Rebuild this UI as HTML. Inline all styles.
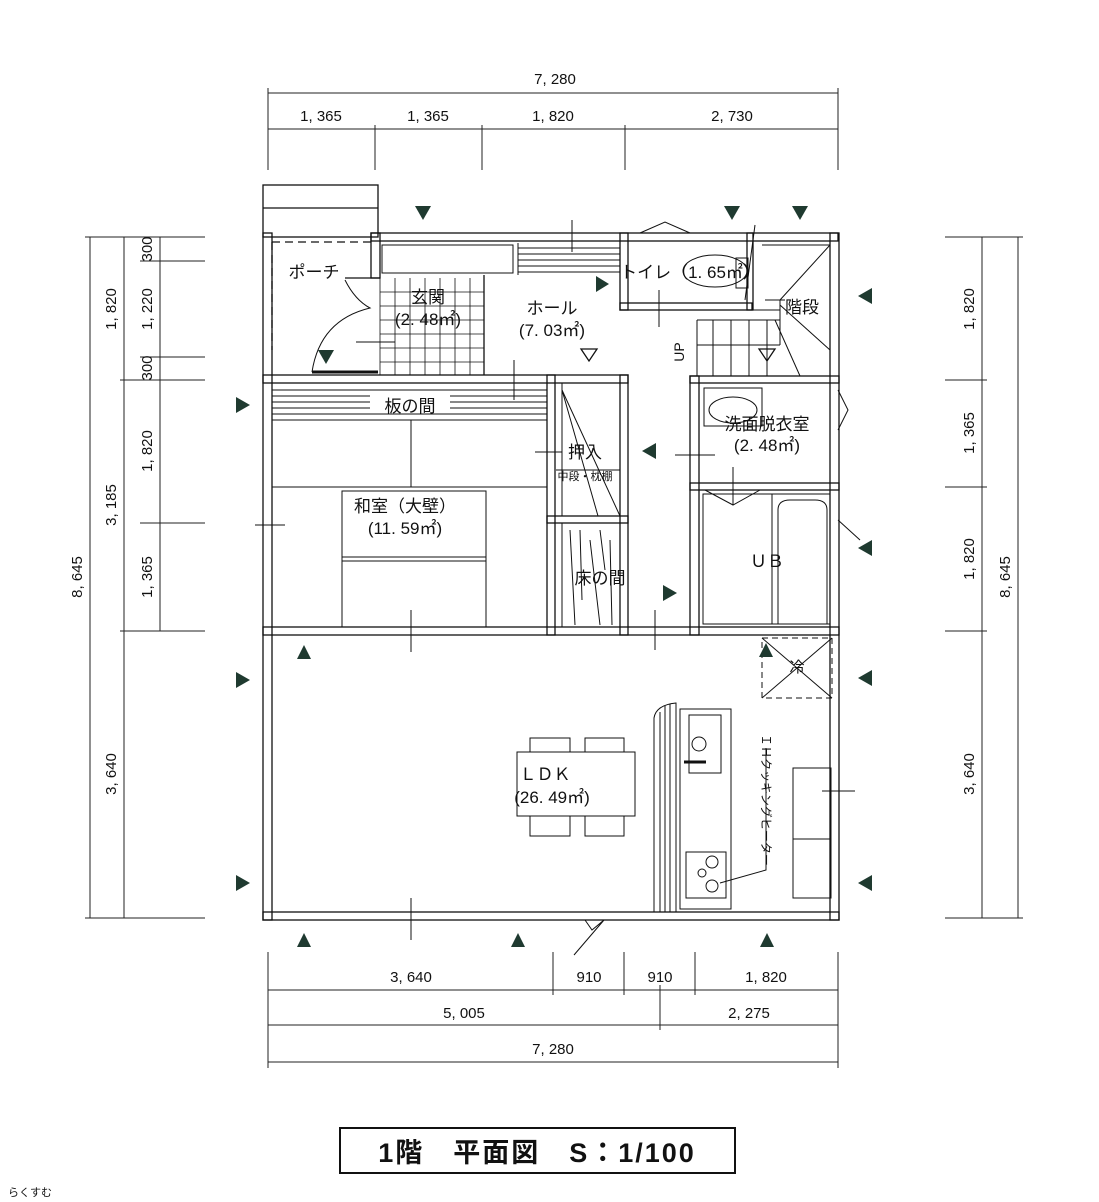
<!DOCTYPE html>
<html><head><meta charset="utf-8"><style>
html,body{margin:0;padding:0;background:#fff;}
svg{display:block;}
text{font-family:"Liberation Sans","Noto Sans CJK JP",sans-serif;fill:#111;}
</style></head><body>
<svg width="1099" height="1202" viewBox="0 0 1099 1202" xmlns="http://www.w3.org/2000/svg">
<g stroke="#222" stroke-width="1" fill="none">
<line x1="268" y1="93" x2="838" y2="93"/>
<line x1="268" y1="129" x2="838" y2="129"/>
<line x1="268" y1="88" x2="268" y2="170"/><line x1="838" y1="88" x2="838" y2="170"/>
<line x1="375" y1="125" x2="375" y2="170"/><line x1="482" y1="125" x2="482" y2="170"/><line x1="625" y1="125" x2="625" y2="170"/>
<line x1="268" y1="990" x2="838" y2="990"/>
<line x1="268" y1="1025" x2="838" y2="1025"/>
<line x1="268" y1="1062" x2="838" y2="1062"/>
<line x1="268" y1="952" x2="268" y2="1068"/><line x1="838" y1="952" x2="838" y2="1068"/>
<line x1="553" y1="952" x2="553" y2="995"/><line x1="624" y1="952" x2="624" y2="995"/><line x1="695" y1="952" x2="695" y2="995"/>
<line x1="660" y1="985" x2="660" y2="1030"/>
<line x1="90" y1="237" x2="90" y2="918"/>
<line x1="124" y1="237" x2="124" y2="918"/>
<line x1="160" y1="237" x2="160" y2="631"/>
<line x1="85" y1="237" x2="205" y2="237"/><line x1="85" y1="918" x2="205" y2="918"/>
<line x1="140" y1="261" x2="205" y2="261"/><line x1="140" y1="357" x2="205" y2="357"/>
<line x1="120" y1="380" x2="205" y2="380"/><line x1="140" y1="523" x2="205" y2="523"/><line x1="120" y1="631" x2="205" y2="631"/>
<line x1="982" y1="237" x2="982" y2="918"/>
<line x1="1018" y1="237" x2="1018" y2="918"/>
<line x1="945" y1="237" x2="1023" y2="237"/><line x1="945" y1="918" x2="1023" y2="918"/>
<line x1="945" y1="380" x2="987" y2="380"/><line x1="945" y1="487" x2="987" y2="487"/><line x1="945" y1="631" x2="987" y2="631"/>
</g>
<g font-size="15" text-anchor="middle">
<text x="555" y="84">7, 280</text>
<text x="321" y="121">1, 365</text><text x="428" y="121">1, 365</text><text x="553" y="121">1, 820</text><text x="732" y="121">2, 730</text>
<text x="411" y="982">3, 640</text><text x="589" y="982">910</text><text x="660" y="982">910</text><text x="766" y="982">1, 820</text>
<text x="464" y="1018">5, 005</text><text x="749" y="1018">2, 275</text>
<text x="553" y="1054">7, 280</text>
<text transform="translate(82,577) rotate(-90)">8, 645</text>
<text transform="translate(116,505) rotate(-90)">3, 185</text>
<text transform="translate(116,309) rotate(-90)">1, 820</text>
<text transform="translate(116,774) rotate(-90)">3, 640</text>
<text transform="translate(152,249) rotate(-90)">300</text>
<text transform="translate(152,309) rotate(-90)">1, 220</text>
<text transform="translate(152,368) rotate(-90)">300</text>
<text transform="translate(152,451) rotate(-90)">1, 820</text>
<text transform="translate(152,577) rotate(-90)">1, 365</text>
<text transform="translate(974,309) rotate(-90)">1, 820</text>
<text transform="translate(974,433) rotate(-90)">1, 365</text>
<text transform="translate(974,559) rotate(-90)">1, 820</text>
<text transform="translate(974,774) rotate(-90)">3, 640</text>
<text transform="translate(1010,577) rotate(-90)">8, 645</text>
</g>
<g stroke="#111" stroke-width="1.3" fill="none">
<rect x="263" y="185" width="115" height="52"/><line x1="263" y1="208" x2="378" y2="208"/>
<line x1="272" y1="242" x2="372" y2="242" stroke-dasharray="8,5"/>
<line x1="272" y1="242" x2="272" y2="350" stroke-dasharray="8,5"/>
<rect x="263" y="233" width="9" height="687"/>
<rect x="371" y="233" width="467" height="8"/>
<rect x="830" y="233" width="9" height="687"/>
<rect x="263" y="912" width="576" height="8"/>
<rect x="371" y="233" width="9" height="45"/>
<line x1="345" y1="278" x2="380" y2="278"/>
<rect x="263" y="375" width="365" height="8"/>
<rect x="263" y="627" width="576" height="8"/>
<rect x="690" y="376" width="149" height="7"/>
<rect x="690" y="483" width="149" height="7"/>
<rect x="620" y="233" width="8" height="77"/>
<rect x="620" y="303" width="132" height="7"/>
<rect x="747" y="233" width="6" height="77"/>
<rect x="547" y="375" width="8" height="260"/>
<rect x="620" y="375" width="8" height="260"/>
<rect x="547" y="516" width="81" height="7"/>
<rect x="690" y="376" width="9" height="259"/>
<g stroke-width="1">
<line x1="518" y1="243" x2="518" y2="275"/>
<line x1="518" y1="248" x2="620" y2="248"/><line x1="518" y1="254" x2="620" y2="254"/><line x1="518" y1="260" x2="620" y2="260"/><line x1="518" y1="266" x2="620" y2="266"/><line x1="518" y1="272" x2="620" y2="272"/>
<line x1="572" y1="220" x2="572" y2="252"/>
<rect x="382" y="245" width="131" height="28"/>
<g stroke-width="0.8">
<line x1="380" y1="278" x2="380" y2="375"/><line x1="395" y1="278" x2="395" y2="375"/><line x1="410" y1="278" x2="410" y2="375"/><line x1="425" y1="278" x2="425" y2="375"/><line x1="440" y1="278" x2="440" y2="375"/><line x1="455" y1="278" x2="455" y2="375"/><line x1="470" y1="278" x2="470" y2="375"/>
<line x1="380" y1="292" x2="484" y2="292"/><line x1="380" y1="306" x2="484" y2="306"/><line x1="380" y1="320" x2="484" y2="320"/><line x1="380" y1="334" x2="484" y2="334"/><line x1="380" y1="348" x2="484" y2="348"/><line x1="380" y1="362" x2="484" y2="362"/>
</g>
<line x1="484" y1="275" x2="484" y2="375" stroke-width="1.3"/>
<path d="M345 280 Q 355 300 370 308 Q 320 320 312 372"/>
<line x1="312" y1="372" x2="378" y2="372" stroke-width="3"/>
<line x1="356" y1="342" x2="395" y2="342"/>
<line x1="514" y1="360" x2="514" y2="400"/>
<line x1="272" y1="390" x2="547" y2="390"/><line x1="272" y1="396" x2="370" y2="396"/><line x1="450" y1="396" x2="547" y2="396"/><line x1="272" y1="402" x2="370" y2="402"/><line x1="450" y1="402" x2="547" y2="402"/><line x1="272" y1="408" x2="370" y2="408"/><line x1="450" y1="408" x2="547" y2="408"/><line x1="272" y1="414" x2="547" y2="414"/>
<line x1="272" y1="420" x2="547" y2="420"/>
<line x1="411" y1="420" x2="411" y2="487"/>
<line x1="272" y1="487" x2="547" y2="487"/>
<rect x="342" y="491" width="144" height="136"/>
<line x1="342" y1="557" x2="486" y2="557"/><line x1="342" y1="561" x2="486" y2="561"/>
<line x1="255" y1="525" x2="285" y2="525"/>
<line x1="411" y1="610" x2="411" y2="652"/>
<line x1="562" y1="383" x2="562" y2="516"/>
<line x1="562" y1="390" x2="620" y2="516"/><line x1="562" y1="390" x2="598" y2="516"/>
<line x1="535" y1="452" x2="562" y2="452"/>
<line x1="556" y1="470" x2="620" y2="470"/>
<line x1="562" y1="523" x2="562" y2="627"/>
<path d="M570 530 L575 625 M580 530 L582 600 M590 540 L600 625 M600 530 L605 570 M610 540 L612 625"/>
<line x1="655" y1="610" x2="655" y2="650"/>
<path d="M640 233 L665 222 L690 233"/>
<ellipse cx="715" cy="271" rx="32" ry="16"/>
<rect x="736" y="258" width="12" height="30"/>
<line x1="659" y1="290" x2="659" y2="327"/>
<line x1="693" y1="310" x2="780" y2="310"/>
<line x1="697" y1="320" x2="697" y2="376"/>
<line x1="713" y1="320" x2="713" y2="376"/><line x1="731" y1="320" x2="731" y2="376"/><line x1="749" y1="320" x2="749" y2="376"/><line x1="767" y1="320" x2="767" y2="376"/>
<line x1="697" y1="320" x2="780" y2="320"/>
<line x1="780" y1="300" x2="780" y2="345"/>
<line x1="697" y1="345" x2="780" y2="345"/>
<line x1="780" y1="300" x2="830" y2="245"/><line x1="780" y1="305" x2="830" y2="350"/><line x1="775" y1="320" x2="800" y2="376"/>
<line x1="762" y1="245" x2="830" y2="245"/>
<line x1="765" y1="300" x2="785" y2="300"/>
<line x1="755" y1="225" x2="745" y2="300"/>
<rect x="704" y="388" width="58" height="38"/>
<ellipse cx="733" cy="410" rx="24" ry="13"/>
<line x1="675" y1="455" x2="715" y2="455"/>
<line x1="733" y1="467" x2="733" y2="505"/>
<path d="M705 490 L733 505 L760 490"/>
<path d="M838 390 L848 410 L838 430"/>
<rect x="703" y="494" width="127" height="130"/>
<line x1="772" y1="494" x2="772" y2="624"/>
<path d="M778 624 L778 510 Q778 500 790 500 L815 500 Q827 500 827 510 L827 624"/>
<path d="M838 520 L860 540"/>
<rect x="762" y="638" width="70" height="60" stroke-dasharray="6,4"/>
<line x1="762" y1="638" x2="832" y2="698"/><line x1="832" y1="638" x2="762" y2="698"/>
<path d="M654 912 L654 718 Q656 705 676 703 L676 912"/>
<line x1="660" y1="712" x2="660" y2="912"/><line x1="665" y1="706" x2="665" y2="912"/><line x1="670" y1="704" x2="670" y2="912"/>
<rect x="680" y="709" width="51" height="200"/>
<rect x="689" y="715" width="32" height="58"/>
<circle cx="699" cy="744" r="7"/>
<line x1="684" y1="762" x2="706" y2="762" stroke-width="3"/>
<rect x="686" y="852" width="40" height="46"/>
<circle cx="712" cy="862" r="6"/><circle cx="702" cy="873" r="4"/><circle cx="712" cy="886" r="6"/>
<path d="M766 748 L766 870 L720 883"/>
<rect x="517" y="752" width="118" height="64"/>
<path d="M530 752 L530 738 L570 738 L570 752 M585 752 L585 738 L624 738 L624 752 M530 816 L530 836 L570 836 L570 816 M585 816 L585 836 L624 836 L624 816"/>
<rect x="793" y="768" width="38" height="130"/><line x1="793" y1="839" x2="831" y2="839"/>
<line x1="822" y1="791" x2="855" y2="791"/>
<line x1="411" y1="898" x2="411" y2="940"/>
<path d="M585 920 L592 930 L604 920 M604 920 L574 955"/>
</g>
</g>
<g fill="#1f3a30">
<polygon points="415,206 431,206 423,220"/><polygon points="724,206 740,206 732,220"/><polygon points="792,206 808,206 800,220"/>
<polygon points="318,350 334,350 326,364"/>
<polygon points="872,288 872,304 858,296"/><polygon points="656,443 656,459 642,451"/>
<polygon points="872,540 872,556 858,548"/><polygon points="872,670 872,686 858,678"/><polygon points="872,875 872,891 858,883"/>
<polygon points="236,397 236,413 250,405"/><polygon points="236,672 236,688 250,680"/><polygon points="236,875 236,891 250,883"/>
<polygon points="663,585 663,601 677,593"/><polygon points="596,276 596,292 609,284"/>
<polygon points="297,659 311,659 304,645"/><polygon points="297,947 311,947 304,933"/><polygon points="511,947 525,947 518,933"/><polygon points="760,947 774,947 767,933"/><polygon points="759,657 773,657 766,643"/>
</g>
<g fill="none" stroke="#111" stroke-width="1.3">
<polygon points="581,349 597,349 589,361"/><polygon points="759,349 775,349 767,361"/>
</g>
<g font-size="17" text-anchor="middle">
<text x="314" y="278">ポーチ</text>
<text x="428" y="303">玄関</text><text x="428" y="325">(2. 48㎡)</text>
<text x="552" y="314">ホール</text><text x="552" y="336">(7. 03㎡)</text>
<text x="690" y="278">トイレ（1. 65㎡）</text>
<text x="802" y="313">階段</text>
<text x="410" y="412">板の間</text>
<text x="585" y="458">押入</text>
<text x="585" y="480" font-size="11">中段・枕棚</text>
<text x="405" y="512">和室（大壁）</text><text x="405" y="534">(11. 59㎡)</text>
<text x="600" y="584">床の間</text>
<text x="767" y="430">洗面脱衣室</text><text x="767" y="451">(2. 48㎡)</text>
<text x="767" y="567">ＵＢ</text>
<text x="797" y="672" font-size="15">冷</text>
<text x="545" y="780">ＬＤＫ</text><text x="552" y="803">(26. 49㎡)</text>
<text transform="translate(684,352) rotate(-90)" font-size="14">UP</text>
<text transform="translate(762,800) rotate(90)" font-size="12">ＩＨクッキングヒーター</text>
</g>
<rect x="340" y="1128" width="395" height="45" fill="none" stroke="#111" stroke-width="2"/>
<text x="537" y="1162" font-size="27" text-anchor="middle" font-weight="bold" letter-spacing="2">1階　平面図　S：1/100</text>
<text x="8" y="1196" font-size="11" fill="#888">らくすむ</text>
</svg>
</body></html>
